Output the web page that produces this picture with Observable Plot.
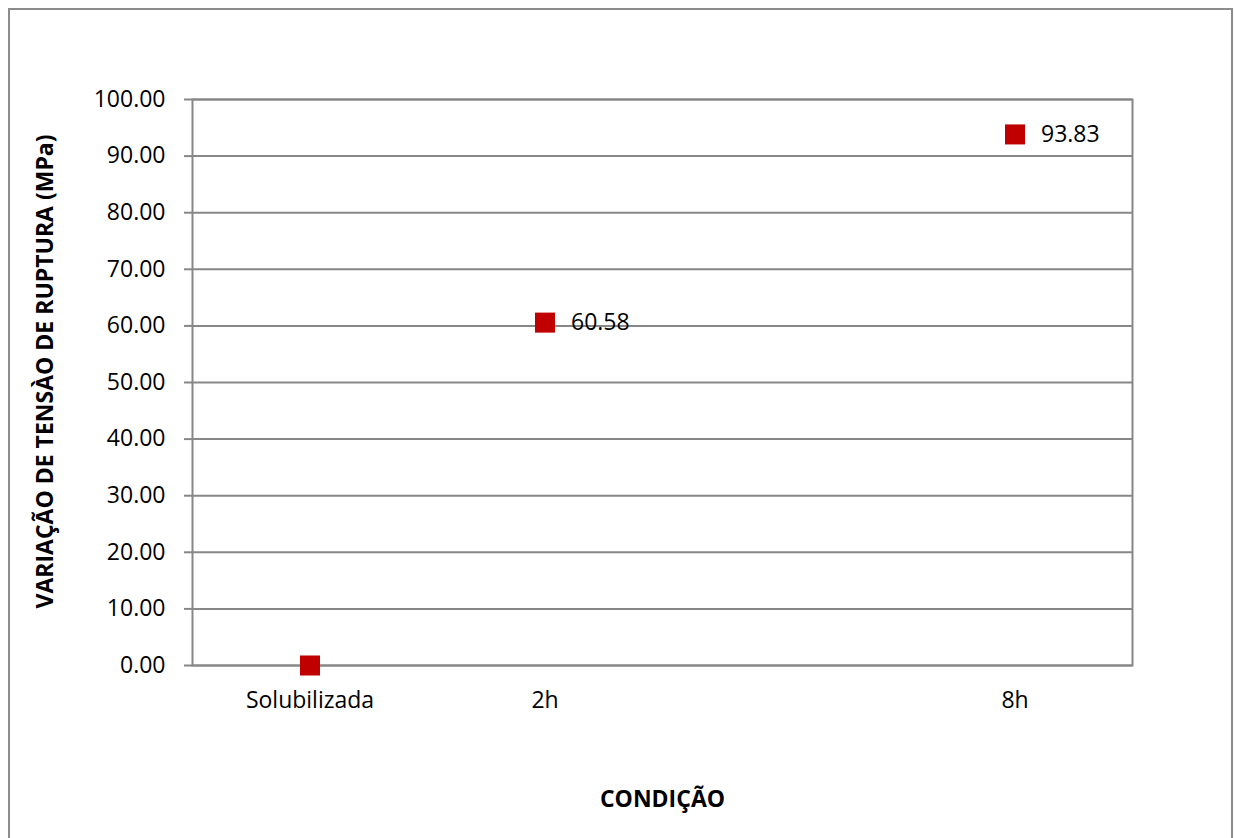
<!DOCTYPE html>
<html>
<head>
<meta charset="utf-8">
<script src="https://cdn.jsdelivr.net/npm/d3@7"></script>
<script src="https://cdn.jsdelivr.net/npm/@observablehq/plot@0.6"></script>
<style>
  html, body { margin: 0; padding: 0; background: #fff; }
  #wrap { position: relative; width: 1234px; height: 838px; overflow: hidden; }
  #border { position: absolute; left: 8px; top: 8px; width: 1225px; height: 840px; border: 2px solid #8c8c8c; box-sizing: border-box; }
  #chart { position: absolute; left: 0; top: 0; }
</style>
</head>
<body>
<div id="wrap"><div id="border"></div><div id="chart"></div></div>
<script>
const categories = ["Solubilizada", "2h", "", "8h"];
const shownCategories = ["Solubilizada", "2h", "8h"];
const values = [0.00, 60.58, 93.83];
const labels = ["", "60.58", "93.83"];
const yTicks = [0, 10, 20, 30, 40, 50, 60, 70, 80, 90, 100];

const data = shownCategories.map((c, i) => ({cond: c, v: values[i], label: labels[i]}));

const font = "'Open Sans', 'Noto Sans', sans-serif";
const fs = 23;
const plot = Plot.plot({
  width: 1234,
  height: 838,
  marginLeft: 192,
  marginRight: 102,
  marginTop: 99,
  marginBottom: 173,
  style: {fontFamily: font, fontSize: fs + "px", color: "#000", background: "transparent"},
  x: {type: "band", domain: categories, padding: 0},
  y: {domain: [0, 100]},
  marks: [
    Plot.gridY(yTicks, {stroke: "#878787", strokeOpacity: 1, strokeWidth: 2}),
    Plot.frame({stroke: "#878787", strokeWidth: 2}),
    Plot.axisY(yTicks, {tickFormat: d => d.toFixed(2), tickSize: 8, tickPadding: 19, stroke: "#878787", strokeWidth: 2, fontSize: fs, label: null}),
    Plot.axisX(shownCategories, {tickSize: 0, tickPadding: 26, fontSize: fs, label: null}),
    Plot.dot(data, {x: "cond", y: "v", symbol: "square", r: 11.3, fill: "#c00000", stroke: null}),
    Plot.text(data, {x: "cond", y: "v", text: "label", dx: 26, textAnchor: "start", fontSize: fs, fill: "#000"}),
    Plot.text(["CONDIÇÃO"], {frameAnchor: "bottom", dy: 141, fontWeight: "bold", fontSize: fs, fill: "#000"}),
    Plot.text(["VARIAÇÃO DE TENSÀO DE RUPTURA (MPa)"], {frameAnchor: "left", textAnchor: "middle", dx: -147, dy: -11, rotate: -90, fontWeight: "bold", fontSize: fs, fill: "#000"})
  ]
});
document.getElementById("chart").appendChild(plot);
</script>
</body>
</html>
